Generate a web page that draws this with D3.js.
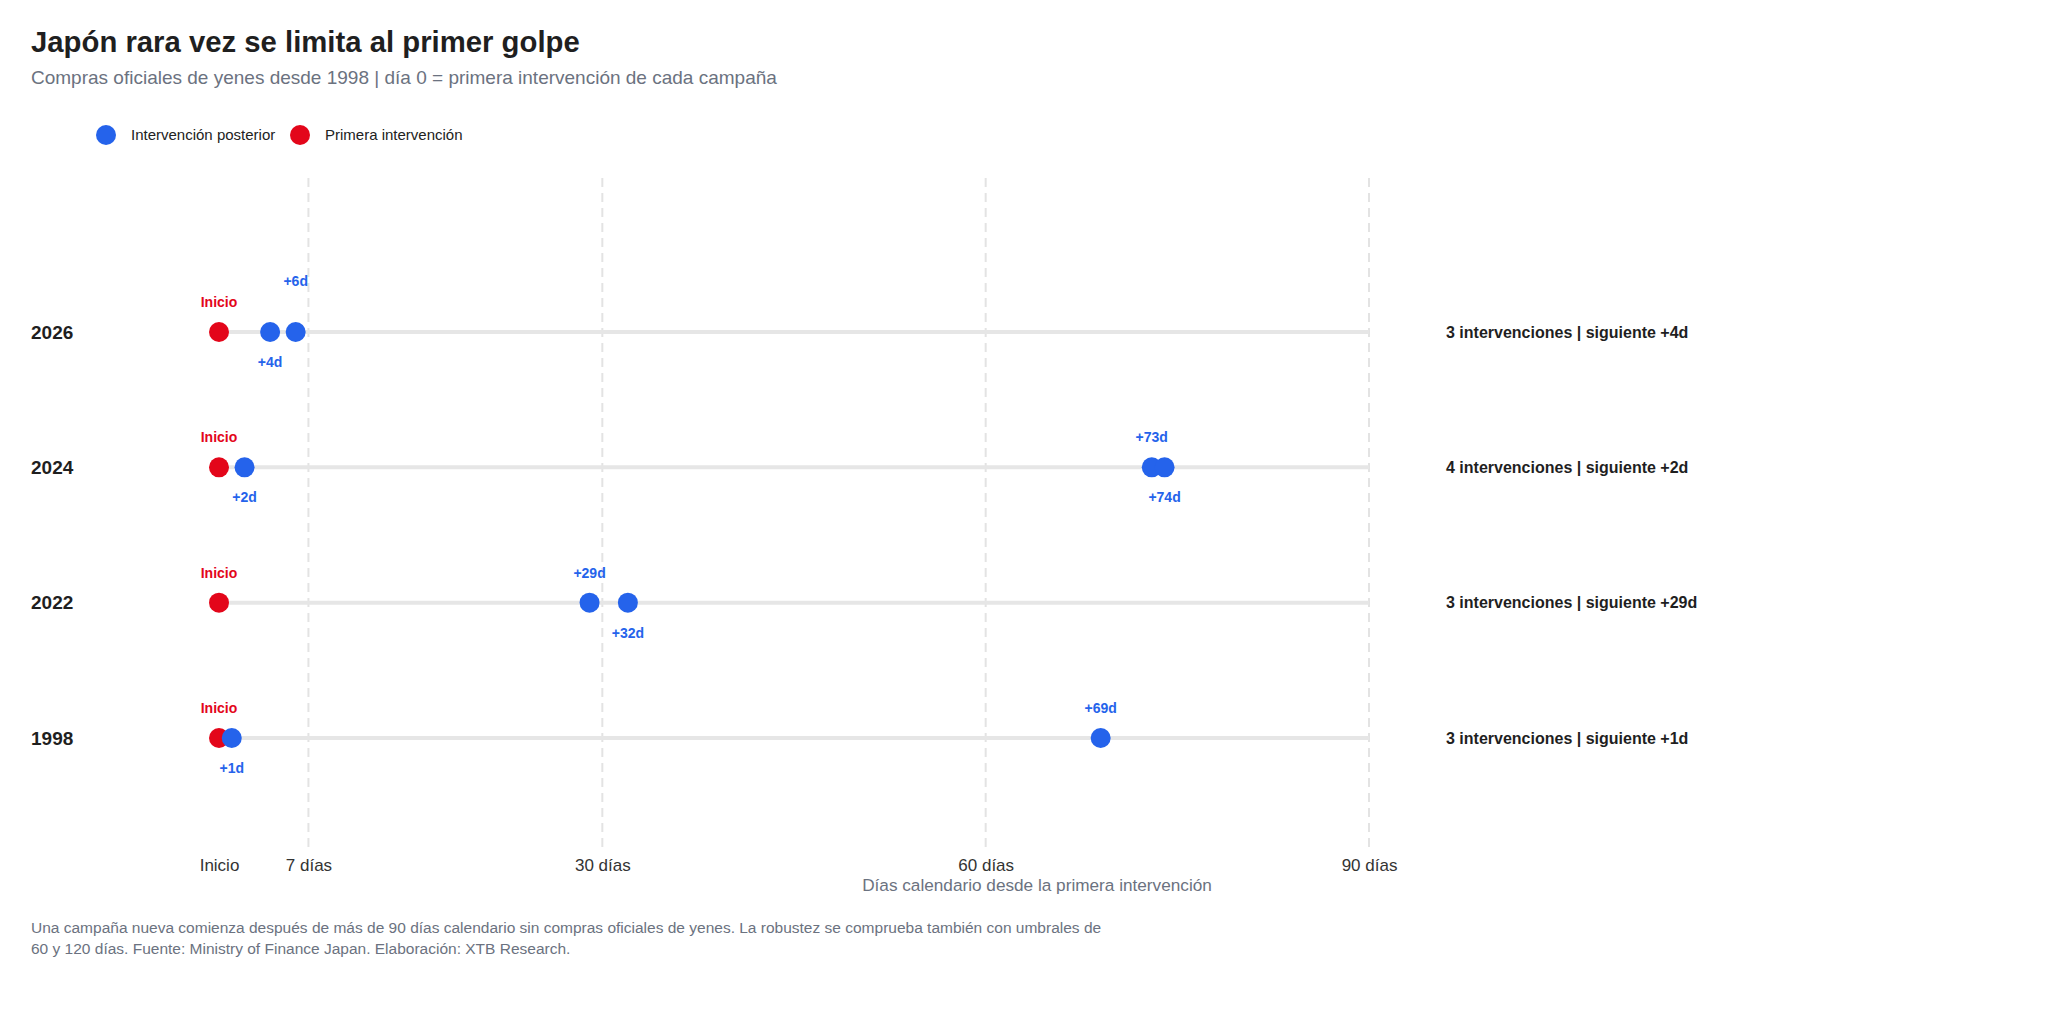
<!DOCTYPE html>
<html>
<head>
<meta charset="utf-8">
<script src="https://cdn.jsdelivr.net/npm/d3@7"></script>
<style>
  html, body { margin: 0; padding: 0; background: #fff; }
  svg { display: block; font-family: "Liberation Sans", Arial, Helvetica, sans-serif; }
</style>
</head>
<body>
<div id="chart"></div>
<script>
// campaigns, top to bottom
var campaigns = ['2026', '2024', '2022', '1998'];
// days since the first purchase of each campaign
var days2026 = [0, 4, 6],
    days2024 = [0, 2, 73, 74],
    days2022 = [0, 29, 32],
    days1998 = [0, 1, 69];
var tickDays = [0, 7, 30, 60, 90];
var tickLabels = ['Inicio', '7 días', '30 días', '60 días', '90 días'];
var legendLabels = ['Intervención posterior', 'Primera intervención'];

var title = 'Japón rara vez se limita al primer golpe',
    subtitle = 'Compras oficiales de yenes desde 1998 | día 0 = primera intervención de cada campaña',
    xTitle = 'Días calendario desde la primera intervención',
    notes = [
        'Una campaña nueva comienza después de más de 90 días calendario sin compras oficiales de yenes. La robustez se comprueba también con umbrales de',
        '60 y 120 días. Fuente: Ministry of Finance Japan. Elaboración: XTB Research.'
    ];

var RED = '#e3061a',
    BLUE = '#2563eb',
    GREY = '#6b7280',
    INK = '#1f1f1f';

var byCampaign = {'2026': days2026, '2024': days2024, '2022': days2022, '1998': days1998};

var width = 2048, height = 1017;

var svg = d3.select('#chart').append('svg')
    .attr('width', width)
    .attr('height', height);

svg.append('rect').attr('width', width).attr('height', height).attr('fill', '#fff');

var x = d3.scaleLinear().domain([0, 90]).range([219, 1369]),
    y = d3.scalePoint().domain(campaigns).range([332, 738]),
    gridTop = 178,
    gridBottom = 850;

// title block
svg.append('text')
    .attr('x', 31).attr('y', 52)
    .style('font-size', '29.3px').style('font-weight', 'bold')
    .attr('fill', INK)
    .text(title);

svg.append('text')
    .attr('x', 31).attr('y', 84)
    .style('font-size', '19px')
    .attr('fill', GREY)
    .text(subtitle);

// legend
var legend = svg.append('g').selectAll('.legend')
    .data(legendLabels)
    .enter()
    .append('g')
    .attr('class', 'legend')
    .attr('transform', function(d, i) { return 'translate(' + (i ? 300 : 106) + ',135)'; });

legend.append('circle')
    .attr('r', 10)
    .attr('fill', function(d, i) { return i ? RED : BLUE; });

legend.append('text')
    .attr('x', 25)
    .attr('dy', '.35em')
    .style('font-size', '15px')
    .attr('fill', '#222')
    .text(function(d) { return d; });

// dashed vertical grid
svg.append('g').selectAll('line')
    .data(tickDays.slice(1))
    .enter()
    .append('line')
    .attr('x1', function(d) { return x(d); })
    .attr('x2', function(d) { return x(d); })
    .attr('y1', gridTop)
    .attr('y2', gridBottom)
    .attr('stroke', '#e3e3e3')
    .attr('stroke-width', 2)
    .attr('stroke-dasharray', '9,6');

// x axis
var xAxis = d3.axisBottom(x)
    .tickValues(tickDays)
    .tickSize(0)
    .tickPadding(0)
    .tickFormat(function(d, i) { return tickLabels[i]; });

var xx = svg.append('g')
    .attr('transform', 'translate(0,859)')
    .call(xAxis);
xx.select('.domain').remove();
xx.selectAll('text')
    .attr('dy', '.71em')
    .style('font-size', '17px')
    .style('font-family', '"Liberation Sans", Arial, Helvetica, sans-serif')
    .attr('fill', '#333');

svg.append('text')
    .attr('x', 1037).attr('y', 891)
    .style('text-anchor', 'middle')
    .style('font-size', '17.2px')
    .attr('fill', GREY)
    .text(xTitle);

// rows
var rows = svg.append('g').selectAll('.row')
    .data(campaigns)
    .enter()
    .append('g')
    .attr('class', 'row')
    .attr('transform', function(d) { return 'translate(0,' + y(d) + ')'; });

rows.append('line')
    .attr('x1', x(0))
    .attr('x2', x(90))
    .attr('stroke', '#e6e6e6')
    .attr('stroke-width', 4);

rows.append('text')
    .attr('x', 31)
    .attr('dy', '.35em')
    .style('font-size', '19px').style('font-weight', 'bold')
    .attr('fill', INK)
    .text(function(d) { return d; });

rows.append('text')
    .attr('x', 1446)
    .attr('dy', '.35em')
    .style('font-size', '16px').style('font-weight', 'bold')
    .attr('fill', INK)
    .text(function(d) {
        var v = byCampaign[d];
        return v.length + ' intervenciones | siguiente +' + v[1] + 'd';
    });

// label side: close followers flip from the previous label, far ones go above
function placeLabels(v) {
    var sides = [];
    v.forEach(function(day, i) {
        if (i === 0) { sides.push(-1); return; }
        sides.push(day - v[i - 1] < 10 ? -sides[i - 1] : -1);
    });
    return v.map(function(day, i) {
        var off = sides[i] > 0 ? 30 : -30;
        if (i > 0 && sides[i] < 0 && day <= 7) off = -51;
        return {day: day, i: i, off: off};
    });
}

var points = rows.selectAll('.pt')
    .data(function(d) { return placeLabels(byCampaign[d]); })
    .enter()
    .append('g')
    .attr('class', 'pt')
    .attr('transform', function(d) { return 'translate(' + x(d.day) + ',0)'; });

points.append('circle')
    .attr('r', 10)
    .attr('fill', function(d) { return d.i ? BLUE : RED; });

points.append('text')
    .attr('y', function(d) { return d.off; })
    .attr('dy', '.35em')
    .style('text-anchor', 'middle')
    .style('font-size', '14px').style('font-weight', 'bold')
    .attr('fill', function(d) { return d.i ? BLUE : RED; })
    .text(function(d) { return d.i ? '+' + d.day + 'd' : 'Inicio'; });

// footnote
svg.append('g').selectAll('text')
    .data(notes)
    .enter()
    .append('text')
    .attr('x', 31)
    .attr('y', function(d, i) { return 933 + i * 21; })
    .style('font-size', '15.5px')
    .attr('fill', GREY)
    .text(function(d) { return d; });
</script>
</body>
</html>
